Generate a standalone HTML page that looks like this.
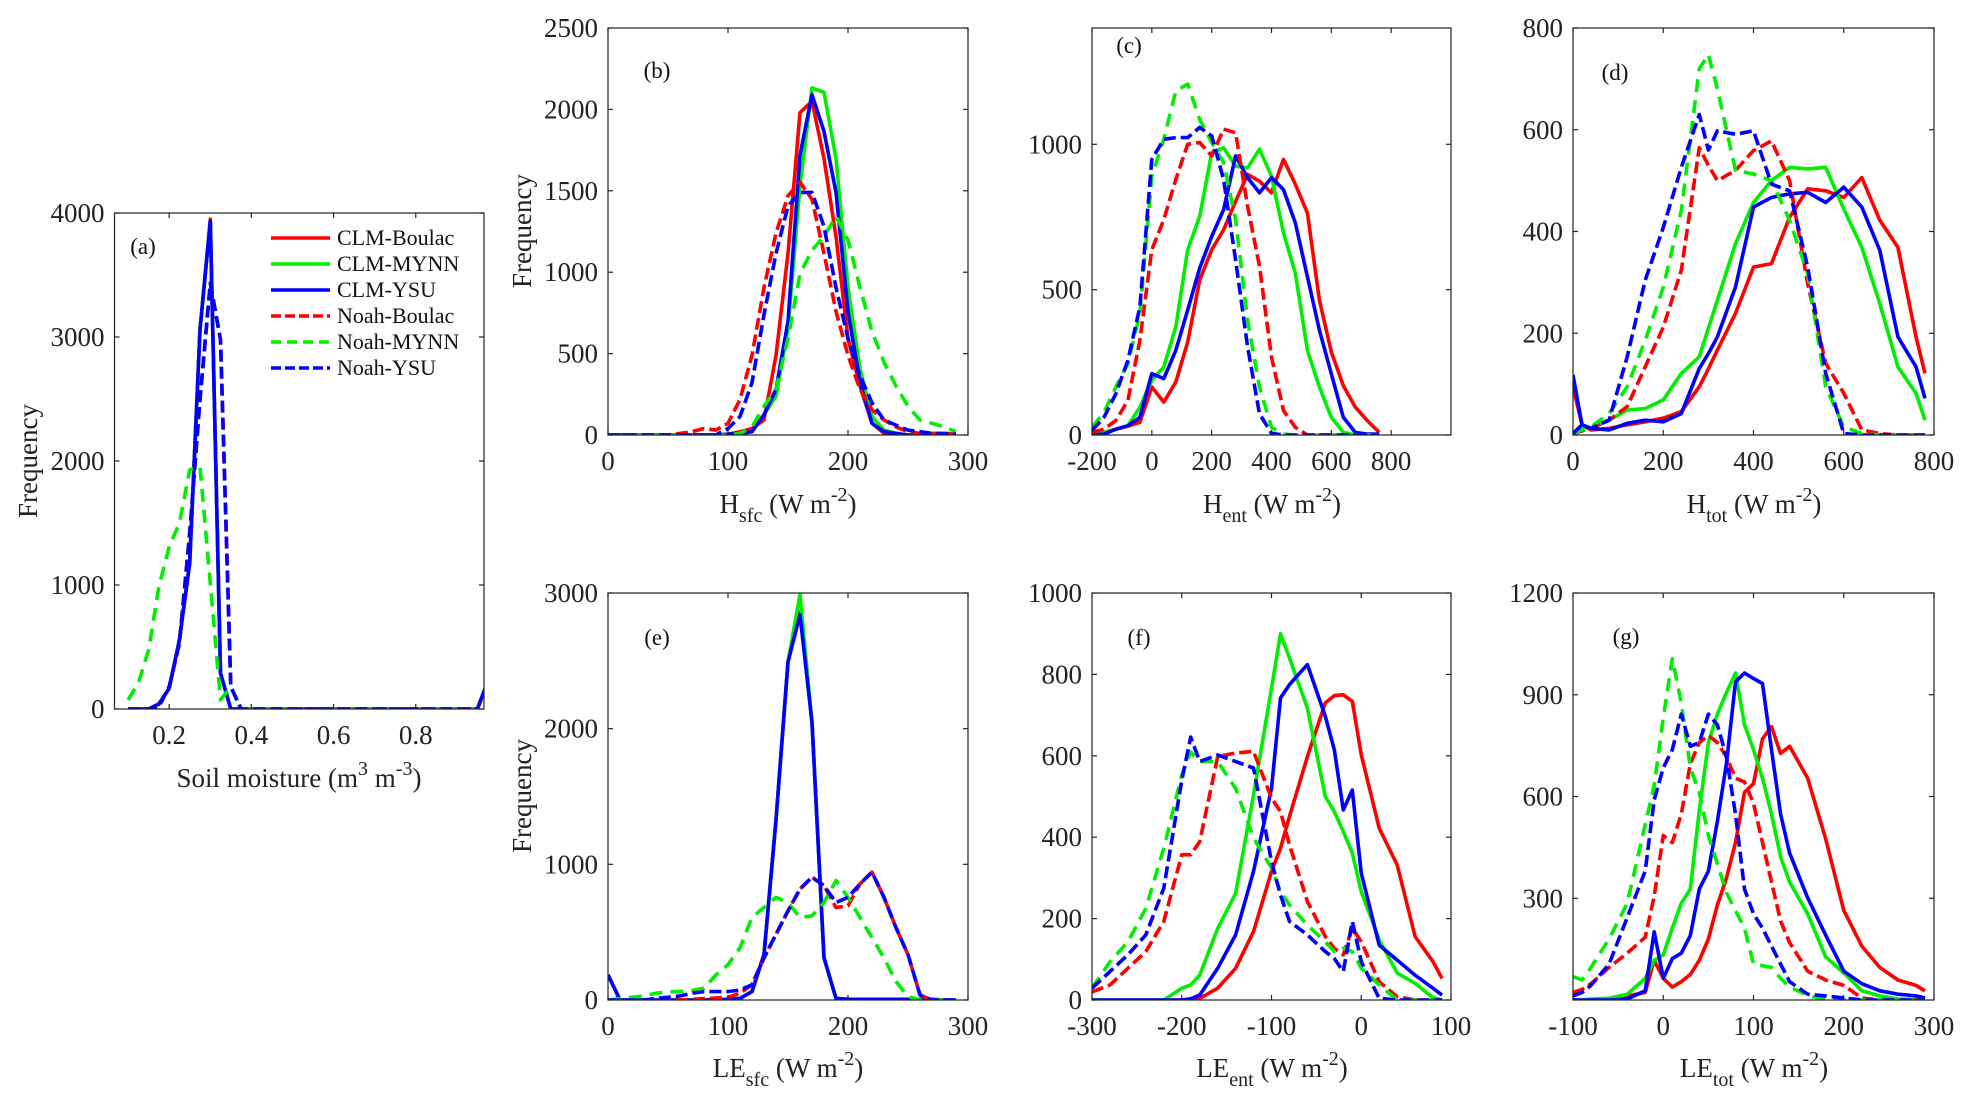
<!DOCTYPE html>
<html><head><meta charset="utf-8"><style>
html,body{margin:0;padding:0;background:#fff;}
svg{display:block;font-family:"Liberation Serif","Times New Roman",serif;}
</style></head><body>
<svg id="fig" width="1971" height="1111" viewBox="0 0 1971 1111" xmlns="http://www.w3.org/2000/svg"></svg>
<script>
// ---------- data ----------
const seriesNames = ["CLM-Boulac","CLM-MYNN","CLM-YSU","Noah-Boulac","Noah-MYNN","Noah-YSU"];
// panel a
const xA = [0.1,0.125,0.15,0.175,0.2,0.225,0.25,0.275,0.3,0.325,0.35,0.375,0.4,0.425,0.45,0.475,0.5,0.525,0.55,0.575,0.6,0.625,0.65,0.675,0.7,0.725,0.75,0.775,0.8,0.825,0.85,0.875,0.9,0.925,0.95,0.975];
const aClmBoulac = [0,0,0,40,167,557,1175,3058,3950,288,0,0,0,0,0,0,0,0,0,0,0,0,0,0,0,0,0,0,0,0,0,0,0,0,0,220];
const aClmMynn   = [0,0,0,40,167,557,1175,3058,3933,288,0,0,0,0,0,0,0,0,0,0,0,0,0,0,0,0,0,0,0,0,0,0,0,0,0,220];
const aClmYsu    = [0,0,0,40,167,557,1175,3058,3933,288,0,0,0,0,0,0,0,0,0,0,0,0,0,0,0,0,0,0,0,0,0,0,0,0,0,220];
const aNoahBoulac= [0,0,0,20,180,530,1418,2494,3435,2978,180,0,0,0,0,0,0,0,0,0,0,0,0,0,0,0,0,0,0,0,0,0,0,0,0,220];
const aNoahMynn  = [73,207,476,987,1310,1498,1929,1956,1014,73,180,0,0,0,0,0,0,0,0,0,0,0,0,0,0,0,0,0,0,0,0,0,0,0,0,220];
const aNoahYsu   = [0,0,0,20,180,530,1418,2494,3435,2978,180,0,0,0,0,0,0,0,0,0,0,0,0,0,0,0,0,0,0,0,0,0,0,0,0,220];
// panel b
const xB = [0,10,20,30,40,50,60,70,80,90,100,110,120,130,140,150,160,170,180,190,200,210,220,230,240,250,260,270,280,290];
const bClmBoulac = [0,0,0,0,0,0,0,0,0,0,5,20,40,92,489,1114,1980,2050,1698,1218,593,301,72,10,0,0,0,0,0,0];
const bClmMynn   = [0,0,0,0,0,0,0,0,0,0,0,5,20,124,239,656,1530,2132,2105,1698,906,406,113,30,10,0,0,0,0,0];
const bClmYsu    = [0,0,0,0,0,0,0,0,0,0,5,10,20,124,280,698,1719,2090,1865,1490,760,322,72,20,10,0,0,0,0,0];
const bNoahBoulac= [0,0,0,0,0,0,10,20,40,30,72,218,489,906,1240,1469,1553,1448,1115,760,489,280,155,92,50,20,10,10,10,5];
const bNoahMynn  = [0,0,0,0,0,0,0,0,0,0,0,10,50,176,280,593,989,1135,1219,1344,1198,906,635,447,301,176,92,72,50,20];
const bNoahYsu   = [0,0,0,0,0,0,0,0,0,0,40,113,322,739,1115,1406,1490,1490,1281,906,593,364,197,92,61,30,20,10,10,5];
// panel c
const xC = [-200,-160,-120,-80,-40,0,40,80,120,160,200,240,280,320,360,400,440,480,520,560,600,640,680,720,760];
const cClmBoulac = [10,10,20,30,44,165,113,182,320,533,637,706,804,896,873,833,948,862,764,464,286,170,96,50,9];
const cClmMynn   = [3,9,20,32,96,188,234,372,637,752,971,988,925,919,983,890,695,556,291,165,61,9,0,0,0];
const cClmYsu    = [0,3,20,32,61,211,194,291,430,574,683,775,960,885,833,885,844,729,545,361,211,61,9,3,3];
const cNoahBoulac= [9,20,50,119,326,637,741,879,1000,1006,960,1052,1040,787,580,268,84,26,0,0,0,0,0,0,0];
const cNoahMynn  = [26,78,165,245,418,890,1017,1184,1207,1086,1006,937,741,395,165,26,3,0,0,0,0,0,0,0,0];
const cNoahYsu   = [15,61,142,257,441,948,1017,1023,1023,1058,1029,879,602,303,73,6,0,0,0,0,0,0,0,0,0];
// panel d
const xD = [0,20,40,80,120,160,200,240,280,300,320,360,400,440,480,520,560,600,640,680,720,760,780];
const dClmBoulac = [95,20,10,13,20,26,33,46,95,130,167,239,330,337,428,484,480,467,506,422,369,193,121];
const dClmMynn   = [3,20,13,29,49,52,69,121,154,210,265,376,457,500,526,523,526,444,369,258,134,82,29];
const dClmYsu    = [118,20,13,10,23,29,26,42,131,160,193,291,448,467,474,477,457,487,448,363,193,134,72];
const dNoahBoulac= [3,8,13,29,56,134,212,324,565,530,500,520,559,578,500,297,141,82,10,3,0,0,0];
const dNoahMynn  = [3,10,16,42,95,186,291,441,720,748,680,520,513,500,422,317,95,16,3,0,0,0,0];
const dNoahYsu   = [3,20,13,29,154,304,408,526,630,560,598,591,598,493,480,330,121,3,0,0,0,0,0];
// panel e
const xE = [0,10,20,30,40,50,60,70,80,90,100,110,120,130,140,150,160,170,180,190,200,210,220,230,240,250,260,270,280,290];
const eClmBoulac = [186,0,0,0,0,0,0,0,0,0,5,12,62,335,1327,2492,2860,2046,310,12,5,0,0,0,0,0,0,0,0,0];
const eClmMynn   = [186,0,0,0,0,0,0,0,0,0,5,12,62,335,1327,2492,2988,2046,310,12,5,0,0,0,0,0,0,0,0,0];
const eClmYsu    = [186,0,0,0,0,0,0,0,0,0,5,12,62,335,1327,2492,2840,2046,310,12,5,5,5,5,5,5,5,5,0,0];
const eNoahBoulac= [0,0,0,0,0,0,0,5,10,15,20,50,112,310,484,657,818,905,843,682,694,856,942,756,533,335,37,0,0,0];
const eNoahMynn  = [0,10,20,30,50,60,62,70,87,186,260,385,610,682,756,719,608,620,719,880,756,608,459,310,137,25,0,0,0,0];
const eNoahYsu   = [0,0,0,0,12,20,30,50,62,62,62,74,112,310,484,657,818,905,843,719,756,856,942,756,533,335,37,0,0,0];
// panel f
const xF = [-300,-280,-260,-240,-220,-200,-190,-180,-160,-140,-120,-100,-90,-80,-60,-40,-30,-20,-10,0,20,40,60,80,90];
const fClmBoulac = [0,0,0,0,0,0,0,4,29,78,168,316,373,451,598,730,748,750,734,602,422,332,156,94,53];
const fClmMynn   = [0,0,0,0,0,29,37,61,176,262,504,766,900,840,717,500,463,414,361,266,148,66,41,6,0];
const fClmYsu    = [0,0,0,0,0,0,3,12,78,160,316,520,742,775,824,697,615,467,516,311,135,98,61,29,12];
const fNoahBoulac= [20,37,78,119,193,357,357,389,598,607,611,496,463,381,242,156,127,111,176,143,45,8,0,0,0];
const fNoahMynn  = [29,94,143,225,373,553,609,586,586,520,398,324,266,234,184,143,119,127,119,78,37,0,0,0,0];
const fNoahYsu   = [29,70,111,160,275,540,646,586,602,586,570,340,258,193,160,119,102,70,193,94,4,0,0,0,0];
// panel g
const xG = [-100,-90,-80,-60,-40,-20,-10,0,10,20,30,40,50,60,70,80,90,100,110,120,130,140,160,180,200,220,240,260,280,290];
const gClmBoulac = [0,0,0,0,12,22,117,64,38,54,75,117,180,280,359,464,612,638,770,806,727,748,654,475,264,159,96,59,43,27];
const gClmMynn   = [0,0,3,5,17,64,117,133,212,285,327,559,759,843,906,964,812,738,654,548,422,348,254,127,80,27,12,3,1,0];
const gClmYsu    = [0,0,0,0,3,27,201,64,122,138,190,327,380,527,696,938,964,948,933,738,548,433,301,191,85,48,27,17,12,6];
const gNoahBoulac= [22,31,48,96,138,185,306,485,464,548,696,759,780,759,717,654,643,580,464,348,233,169,85,59,43,6,0,0,0,0];
const gNoahMynn  = [69,59,96,180,285,517,633,833,1006,875,685,612,485,401,317,264,212,106,101,96,64,38,14,1,0,0,0,0,0,0];
const gNoahYsu   = [12,22,43,106,243,380,590,685,738,843,748,759,843,811,717,548,327,254,212,159,106,54,17,12,6,0,0,0,0,0];

const xTicksA=[0.2,0.4,0.6,0.8], yTicksA=[0,1000,2000,3000,4000];
const xTicksB=[0,100,200,300], yTicksB=[0,500,1000,1500,2000,2500];
const xTicksC=[-200,0,200,400,600,800], yTicksC=[0,500,1000];
const xTicksD=[0,200,400,600,800], yTicksD=[0,200,400,600,800];
const xTicksE=[0,100,200,300], yTicksE=[0,1000,2000,3000];
const xTicksF=[-300,-200,-100,0,100], yTicksF=[0,200,400,600,800,1000];
const xTicksG=[-100,0,100,200,300], yTicksG=[300,600,900,1200];

// ---------- rendering ----------
const NS="http://www.w3.org/2000/svg";
const svg=document.getElementById('fig');
const styles=[
 {c:"#ff0000",d:null},{c:"#00ee00",d:null},{c:"#0000ff",d:null},
 {c:"#ff0000",d:"12,5"},{c:"#00ee00",d:"13,8"},{c:"#0000ff",d:"12,5"}];
function mk(tag,attrs,parent){const e=document.createElementNS(NS,tag);for(const k in attrs)e.setAttribute(k,attrs[k]);(parent||svg).appendChild(e);return e;}

const panels=[
 {id:"a",L:114.5,R:484,T:213,B:709,x0:0.067,x1:0.966,y0:0,y1:4000,x:xA,s:[aClmBoulac,aClmMynn,aClmYsu,aNoahBoulac,aNoahMynn,aNoahYsu],xt:xTicksA,yt:yTicksA,lab:[143,246]},
 {id:"b",L:608,R:968,T:28,B:435,x0:0,x1:300,y0:0,y1:2500,x:xB,s:[bClmBoulac,bClmMynn,bClmYsu,bNoahBoulac,bNoahMynn,bNoahYsu],xt:xTicksB,yt:yTicksB,lab:[657,70]},
 {id:"c",L:1092,R:1451,T:28,B:435,x0:-200,x1:1000,y0:0,y1:1400,x:xC,s:[cClmBoulac,cClmMynn,cClmYsu,cNoahBoulac,cNoahMynn,cNoahYsu],xt:xTicksC,yt:yTicksC,lab:[1129,45]},
 {id:"d",L:1573,R:1934,T:28,B:435,x0:0,x1:800,y0:0,y1:800,x:xD,s:[dClmBoulac,dClmMynn,dClmYsu,dNoahBoulac,dNoahMynn,dNoahYsu],xt:xTicksD,yt:yTicksD,lab:[1615,72]},
 {id:"e",L:608,R:968,T:593,B:1000,x0:0,x1:300,y0:0,y1:3000,x:xE,s:[eClmBoulac,eClmMynn,eClmYsu,eNoahBoulac,eNoahMynn,eNoahYsu],xt:xTicksE,yt:yTicksE,lab:[657,637]},
 {id:"f",L:1092,R:1451,T:593,B:1000,x0:-300,x1:100,y0:0,y1:1000,x:xF,s:[fClmBoulac,fClmMynn,fClmYsu,fNoahBoulac,fNoahMynn,fNoahYsu],xt:xTicksF,yt:yTicksF,lab:[1139,637]},
 {id:"g",L:1573,R:1934,T:593,B:1000,x0:-100,x1:300,y0:0,y1:1200,x:xG,s:[gClmBoulac,gClmMynn,gClmYsu,gNoahBoulac,gNoahMynn,gNoahYsu],xt:xTicksG,yt:yTicksG,lab:[1626,636]}
];
const defs=mk('defs',{});
panels.forEach(p=>{
  const g=mk('g',{});
  
  
  const sx=v=>p.L+(v-p.x0)/(p.x1-p.x0)*(p.R-p.L);
  const sy=v=>p.B-(v-p.y0)/(p.y1-p.y0)*(p.B-p.T);
  const cp=mk('clipPath',{id:'clip'+p.id},defs);
  mk('rect',{x:p.L,y:p.T-2,width:p.R-p.L,height:p.B-p.T+2},cp);
  const lines=mk('g',{'clip-path':'url(#clip'+p.id+')'},g);
  p.s.forEach((vals,i)=>{
    const pts=vals.map((v,j)=>sx(p.x[j]).toFixed(1)+','+sy(v).toFixed(1)).join(' ');
    const pl=mk('polyline',{points:pts,fill:'none',stroke:styles[i].c,'stroke-width':3.6,'stroke-linejoin':'round'},lines);
    if(styles[i].d) pl.setAttribute('stroke-dasharray',styles[i].d);
    
    
  });
  const box=mk('rect',{x:p.L,y:p.T,width:p.R-p.L,height:p.B-p.T,fill:'none',stroke:'#222','stroke-width':1.2},g);
  
  
  p.xt.forEach(t=>{
    const x=sx(t);
    mk('line',{x1:x,x2:x,y1:p.B,y2:p.B-5,stroke:'#222','stroke-width':1.2},g);
    mk('line',{x1:x,x2:x,y1:p.T,y2:p.T+5,stroke:'#222','stroke-width':1.2},g);
    const tx=mk('text',{x:x,y:p.B+35,'text-anchor':'middle','font-size':27,fill:'#222'},g);
    tx.textContent=String(t);
    
    
  });
  p.yt.forEach(t=>{
    const y=sy(t);
    mk('line',{x1:p.L,x2:p.L+5,y1:y,y2:y,stroke:'#222','stroke-width':1.2},g);
    mk('line',{x1:p.R,x2:p.R-5,y1:y,y2:y,stroke:'#222','stroke-width':1.2},g);
    const ty=mk('text',{x:p.L-10,y:y+9,'text-anchor':'end','font-size':27,fill:'#222'},g);
    ty.textContent=String(t);
    
    
  });
  const pl=mk('text',{x:p.lab[0],y:p.lab[1]+8,'text-anchor':'middle','font-size':23,fill:'#111'},g);
  pl.textContent='('+p.id+')';
  
  
});

// axis labels
function xlabel(cx,y,main,sub,sup1,mid,sup2,name){
  const t=mk('text',{x:cx,y:y,'text-anchor':'middle','font-size':27,fill:'#222'});
  
  
  let h='';
  h+=main;
  if(sub) h+='<tspan font-size="20" dy="9">'+sub+'</tspan><tspan dy="-9"> </tspan>';
  h+=mid;
  h+='<tspan font-size="20" dy="-12">'+sup2+'</tspan><tspan dy="12">)</tspan>';
  t.innerHTML=h;
}
xlabel(299,787,'Soil moisture (m','', '', '<tspan font-size="20" dy="-12">3</tspan><tspan dy="12"> m</tspan>','-3','x-axis-title-a');
xlabel(788,513,'H','sfc','','(W m','-2','x-axis-title-b');
xlabel(1272,513,'H','ent','','(W m','-2','x-axis-title-c');
xlabel(1754,513,'H','tot','','(W m','-2','x-axis-title-d');
xlabel(788,1077,'LE','sfc','','(W m','-2','x-axis-title-e');
xlabel(1272,1077,'LE','ent','','(W m','-2','x-axis-title-f');
xlabel(1754,1077,'LE','tot','','(W m','-2','x-axis-title-g');

[[37,461,'y-axis-title-a'],[531,231,'y-axis-title-b'],[531,796,'y-axis-title-e']].forEach(a=>{
  const t=mk('text',{x:a[0],y:a[1],'text-anchor':'middle','font-size':27,fill:'#222',transform:'rotate(-90 '+a[0]+' '+a[1]+')'});
  t.textContent='Frequency';
  
  
});

// legend
const lg=mk('g',{});


const legY=[238,264,290,316,342,368];
seriesNames.forEach((n,i)=>{
  const e=mk('g',{},lg);
  
  
  const l=mk('line',{x1:271,x2:330,y1:legY[i],y2:legY[i],stroke:styles[i].c,'stroke-width':3.6},e);
  if(styles[i].d) l.setAttribute('stroke-dasharray',i==4?'10,6':'10,4');
  const t=mk('text',{x:337,y:legY[i]+7,'font-size':22,fill:'#111'},e);
  t.textContent=n;
});
</script>
</body></html>
